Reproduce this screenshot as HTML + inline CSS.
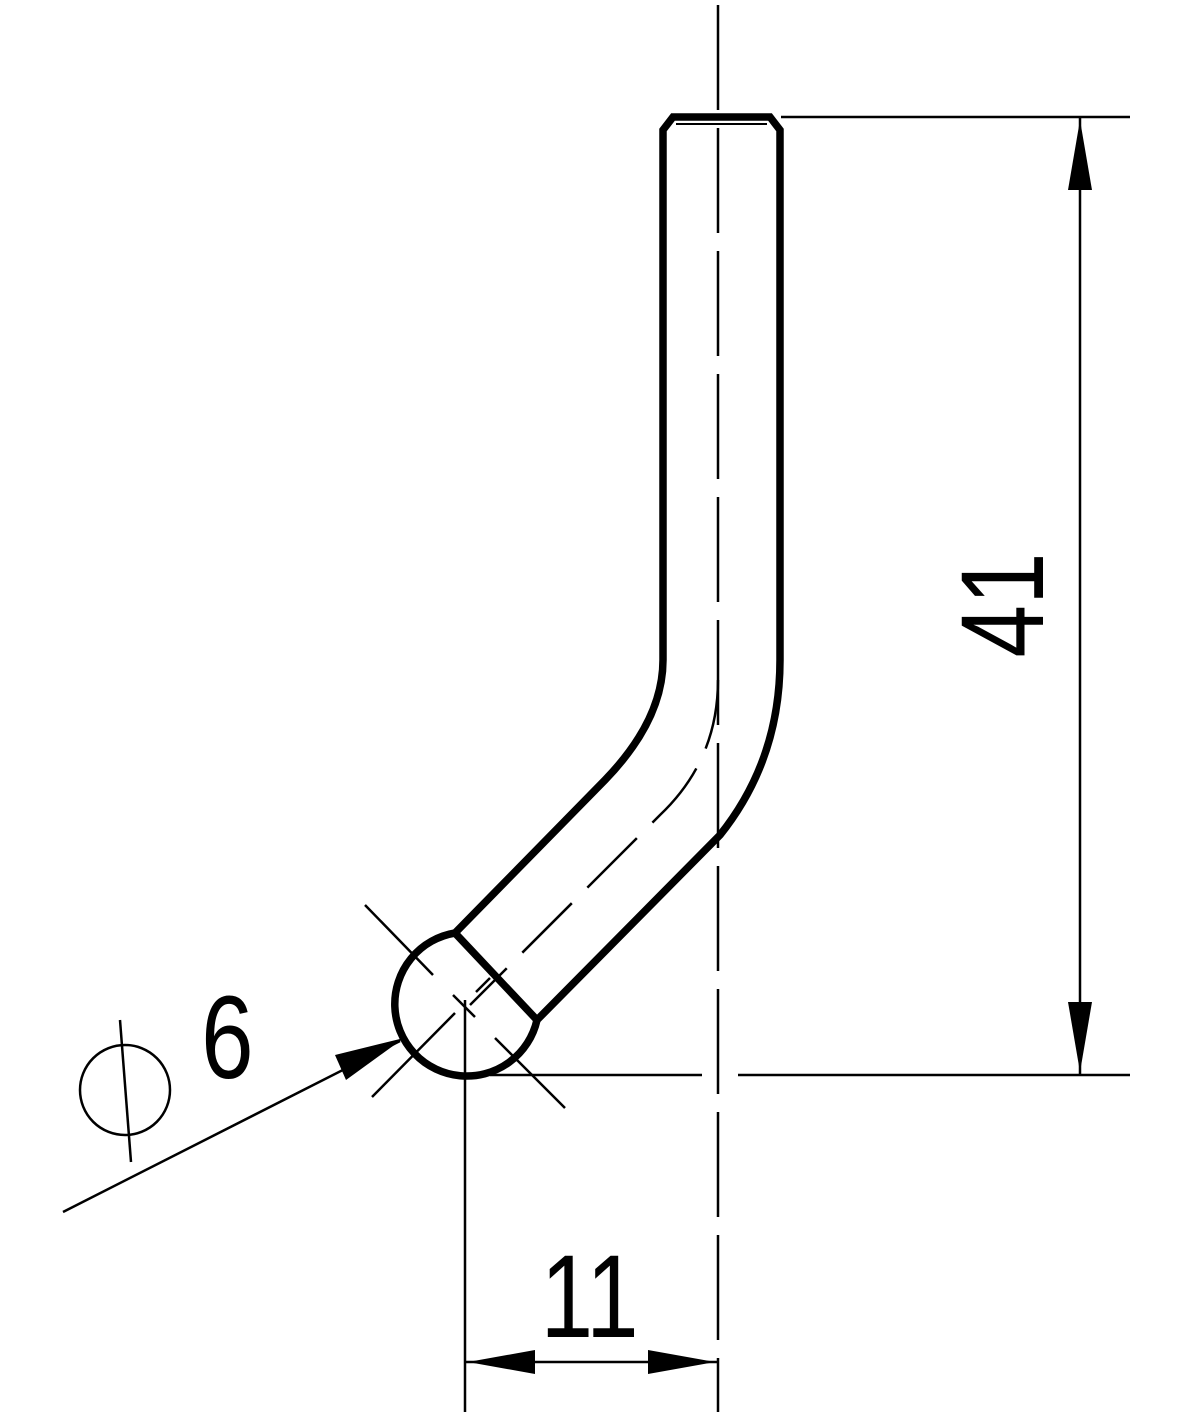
<!DOCTYPE html>
<html><head><style>body{margin:0;background:#fff}svg{display:block}</style></head><body>
<svg width="1181" height="1417" viewBox="0 0 1181 1417" xmlns="http://www.w3.org/2000/svg">
<g fill="none" stroke="#000" stroke-linecap="butt">
<path d="M663,660 L663,130 L673,117 L770,117 L780,130 L780,660 Q780,760 720,835 L537,1020 M455,933 L605,780 Q663,720 663,660" stroke-width="7.5"/>
<path d="M455,933 L537,1020" stroke-width="7.5"/>
<path d="M455,933 A72,72 0 1 0 537,1020" stroke-width="7.5"/>
<line x1="676" y1="124" x2="767" y2="124" stroke-width="2"/>
<line x1="718" y1="5" x2="718" y2="1412" stroke-width="2.5" stroke-dasharray="105,18"/>
<path d="M718,680 Q718,760 660,815 L470,1005" stroke-width="2.5" stroke-dasharray="70,22"/>
<line x1="365" y1="905" x2="433" y2="975" stroke-width="2.5"/>
<line x1="453" y1="995" x2="475" y2="1017" stroke-width="2.5"/>
<line x1="495" y1="1038" x2="565" y2="1108" stroke-width="2.5"/>
<line x1="372" y1="1097" x2="455" y2="1013" stroke-width="2.5"/>
<line x1="476" y1="992" x2="490" y2="978" stroke-width="2.5"/>
<line x1="781" y1="117" x2="1130" y2="117" stroke-width="2.5"/>
<line x1="490" y1="1075" x2="702" y2="1075" stroke-width="2.5"/>
<line x1="738" y1="1075" x2="1130" y2="1075" stroke-width="2.5"/>
<line x1="1080" y1="117" x2="1080" y2="1075" stroke-width="2.5"/>
<line x1="465" y1="1000" x2="465" y2="1412" stroke-width="2.5"/>
<line x1="465" y1="1362" x2="718" y2="1362" stroke-width="2.5"/>
<line x1="63" y1="1212" x2="400" y2="1041" stroke-width="2.5"/>
<circle cx="125" cy="1090" r="45" stroke-width="2.5"/>
<line x1="120" y1="1020" x2="131" y2="1162" stroke-width="2.5"/>
</g>
<g fill="#000">
<polygon points="1080,120 1068,190 1092,190"/>
<polygon points="1080,1072 1068,1002 1092,1002"/>
<polygon points="468,1362 535,1350 535,1374"/>
<polygon points="715,1362 648,1350 648,1374"/>
<polygon points="404,1038 335,1055 346,1080"/>
</g>
<g font-family="'Liberation Sans','DejaVu Sans',sans-serif" fill="#000">
<text x="590" y="1337" font-size="118" text-anchor="middle" transform="scale(0.8,1) translate(147,0)">11</text>
<text transform="translate(1043,605) rotate(-90) scale(0.8,1)" font-size="118" text-anchor="middle">41</text>
<text x="228" y="1078" font-size="118" text-anchor="middle" transform="translate(45,0) scale(0.8,1)">6</text>
</g>
</svg>
</body></html>
